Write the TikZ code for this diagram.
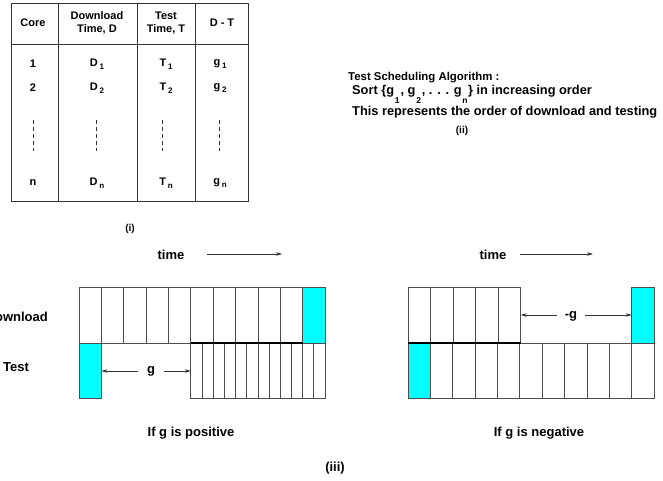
\documentclass[tikz,border=0pt]{standalone}
\usepackage{fontspec}
\setmainfont{Liberation Sans}
\usetikzlibrary{arrows.meta}
\definecolor{cy}{RGB}{0,255,255}
\newcommand{\sbs}[1]{\,\raisebox{-0.5ex}{\fontsize{8}{8}\selectfont #1}}
\newcommand{\sbl}[1]{\makebox[0.5em]{\raisebox{-9pt}{\fontsize{8.5}{8.5}\selectfont #1}}}
\begin{document}
\begin{tikzpicture}[x=1pt,y=-1pt,
  every node/.style={inner sep=0pt},
  tfont/.style={font=\bfseries\fontsize{11}{13}\selectfont},
  afont/.style={font=\bfseries\fontsize{11.4}{13}\selectfont},
  a2font/.style={font=\bfseries\fontsize{12.8}{14}\selectfont},
  bfont/.style={font=\bfseries\fontsize{13}{15}\selectfont},
  tbl/.style={draw=black!80, line width=0.9pt},
  cell/.style={draw=black!70, line width=0.7pt},
  hi/.style={cell, fill=cy},
  dsh/.style={draw=black!80, line width=0.7pt, dash pattern=on 4pt off 3pt},
  arr/.style={-{Stealth[length=6pt,width=3.5pt]}, line width=0.6pt, draw=black!80},
  seam/.style={draw=black, line width=1.3pt}]
\useasboundingbox (0,0) rectangle (663,481);
\clip (0,0) rectangle (663,481);

% ---------- (i) table ----------
\draw[tbl] (11,3) rectangle (248,201);
\draw[tbl] (58,3) -- (58,201);
\draw[tbl] (137,3) -- (137,201);
\draw[tbl] (195,3) -- (195,201);
\draw[tbl] (11,44) -- (248,44);

\node[tfont] (hC) at (33,23) {Core};
\node[tfont,align=center] (hD) at (97,23) {Download\\Time, D};
\node[tfont,align=center] (hT) at (166,23) {Test\\Time, T};
\node[tfont] (hG) at (222,23) {D - T};

\node[tfont] (c1) at (33,64) {1};
\node[tfont] (d1) at (97,64) {D\sbs{1}};
\node[tfont] (t1) at (166,64) {T\sbs{1}};
\node[tfont] (g1) at (220,64) {g\sbs{1}};
\node[tfont] (c2) at (33,88) {2};
\node[tfont] (d2) at (97,88) {D\sbs{2}};
\node[tfont] (t2) at (166,88) {T\sbs{2}};
\node[tfont] (g2) at (220,88) {g\sbs{2}};
\node[tfont] (cn) at (33,183) {n};
\node[tfont] (dn) at (97,183) {D\sbs{n}};
\node[tfont] (tn) at (166,183) {T\sbs{n}};
\node[tfont] (gn) at (220,183) {g\sbs{n}};

\draw[dsh] (33,120) -- (33,151);
\draw[dsh] (96,120) -- (96,151);
\draw[dsh] (162,120) -- (162,151);
\draw[dsh] (219,120) -- (219,151);

\node[font=\bfseries\fontsize{10}{12}\selectfont] (li) at (130,229) {(i)};

% ---------- (ii) algorithm ----------
\node[afont,anchor=base west] (a1) at (348,80.5) {Test Scheduling Algorithm :};
\node[a2font,anchor=base west] (a2) at (352,95) {Sort \{g\sbl{1}, g\sbl{2}, . . . g\sbl{n}\} in increasing order};
\node[a2font,anchor=base west] (a3) at (352,115.5) {This represents the order of download and testing};
\node[font=\bfseries\fontsize{10}{12}\selectfont] (lii) at (462,131) {(ii)};

% ---------- (iii) left: g positive ----------
\node[bfont] (time1) at (171,255) {time};
\coordinate (ta1) at (207,254);
\coordinate (tb1) at (282,254);
\draw[arr] (ta1) -- (tb1);

\node[bfont,anchor=east] (dl) at (48,317) {Download};
\node[bfont] (ts) at (16,367) {Test};

\foreach \i in {0,...,9} {
  \draw[cell] ({79+\i*22.36},287) rectangle ({79+(\i+1)*22.36},343);
}
\draw[hi] (302.6,287) rectangle (325,343);
\draw[hi] (79,343) rectangle (101.4,398);
\foreach \i in {0,...,11} {
  \draw[cell] ({190.8+\i*11.18},343) rectangle ({190.8+(\i+1)*11.18},398);
}
\draw[seam] (190.8,343) -- (302.6,343);

\node[bfont,inner xsep=9pt] (g) at (151,371) {g};
\coordinate (gl) at (101.4,371);
\coordinate (gr) at (190.8,371);
\draw[arr] (g) -- (gl);
\draw[arr] (g) -- (gr);

\node[bfont] (pos) at (191,433) {If g is positive};

% ---------- (iii) right: g negative ----------
\node[bfont] (time2) at (493,255) {time};
\coordinate (ta2) at (520,254);
\coordinate (tb2) at (593,254);
\draw[arr] (ta2) -- (tb2);

\foreach \i in {0,...,4} {
  \draw[cell] ({408+\i*22.54},287) rectangle ({408+(\i+1)*22.54},343);
}
\draw[hi] (631.7,287) rectangle (654,343);
\foreach \i in {0,...,10} {
  \draw[cell] ({408+\i*22.36},343) rectangle ({408+(\i+1)*22.36},398);
}
\draw[hi] (408,343) rectangle (430.36,398);
\draw[seam] (408,343) -- (520.7,343);

\node[bfont,inner xsep=8pt] (mg) at (571,316) {-g};
\coordinate (ml) at (520.7,315);
\coordinate (mr) at (631.7,315);
\draw[arr] (mg.west |- ml) -- (ml);
\draw[arr] (mg.east |- mr) -- (mr);

\node[bfont] (neg) at (539,433) {If g is negative};
\node[bfont] (liii) at (335,468) {(iii)};
\end{tikzpicture}
\end{document}
